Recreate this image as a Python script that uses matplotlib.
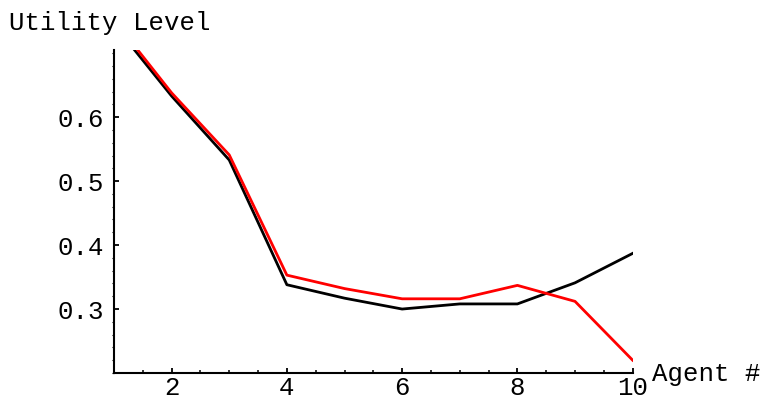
import matplotlib
matplotlib.use("Agg")
import matplotlib.pyplot as plt
from matplotlib.ticker import MultipleLocator

# values
agents = [1, 2, 3, 4, 5, 6, 7, 8, 9, 10]
utility_black = [0.745, 0.633, 0.533, 0.338, 0.317, 0.300, 0.308, 0.308, 0.341, 0.387]
utility_red = [0.752, 0.638, 0.541, 0.353, 0.332, 0.316, 0.316, 0.337, 0.312, 0.220]
x_ticks = [2, 4, 6, 8, 10]
y_ticks = [0.3, 0.4, 0.5, 0.6]

plt.rcParams['font.family'] = ['Liberation Mono', 'DejaVu Sans Mono']
fs = 18.5

fig = plt.figure(figsize=(7.65, 4.0), dpi=100)
ax = fig.add_axes([0.149, 0.0675, 0.678, 0.8075])

ax.plot(agents, utility_black, color='black', lw=2.0)
ax.plot(agents, utility_red, color='#ff0000', lw=2.0)

ax.set_xlim(1, 10)
ax.set_ylim(0.2, 0.705)
ax.set_xticks(x_ticks)
ax.set_yticks(y_ticks)
ax.set_yticklabels([f"{v:.1f}" for v in y_ticks])
ax.xaxis.set_minor_locator(MultipleLocator(0.5))
ax.yaxis.set_minor_locator(MultipleLocator(0.02))

for side in ['top', 'right']:
    ax.spines[side].set_visible(False)
for side in ['left', 'bottom']:
    ax.spines[side].set_linewidth(1.5)

ax.tick_params(which='major', direction='in', length=3.5, width=1.3, labelsize=fs, pad=2.5)
ax.tick_params(axis='y', which='major', pad=7)
ax.tick_params(which='minor', direction='in', length=2.5, width=1.1)
ax.tick_params(axis='y', which='minor', direction='out', length=1.2, width=0.8)

fig.text(0.012, 0.925, "Utility Level", fontsize=fs, ha='left', va='baseline')
ax.text(1.037, -0.003, "Agent #", transform=ax.transAxes, fontsize=fs, ha='left', va='center')

fig.savefig("out.png", dpi=100)
